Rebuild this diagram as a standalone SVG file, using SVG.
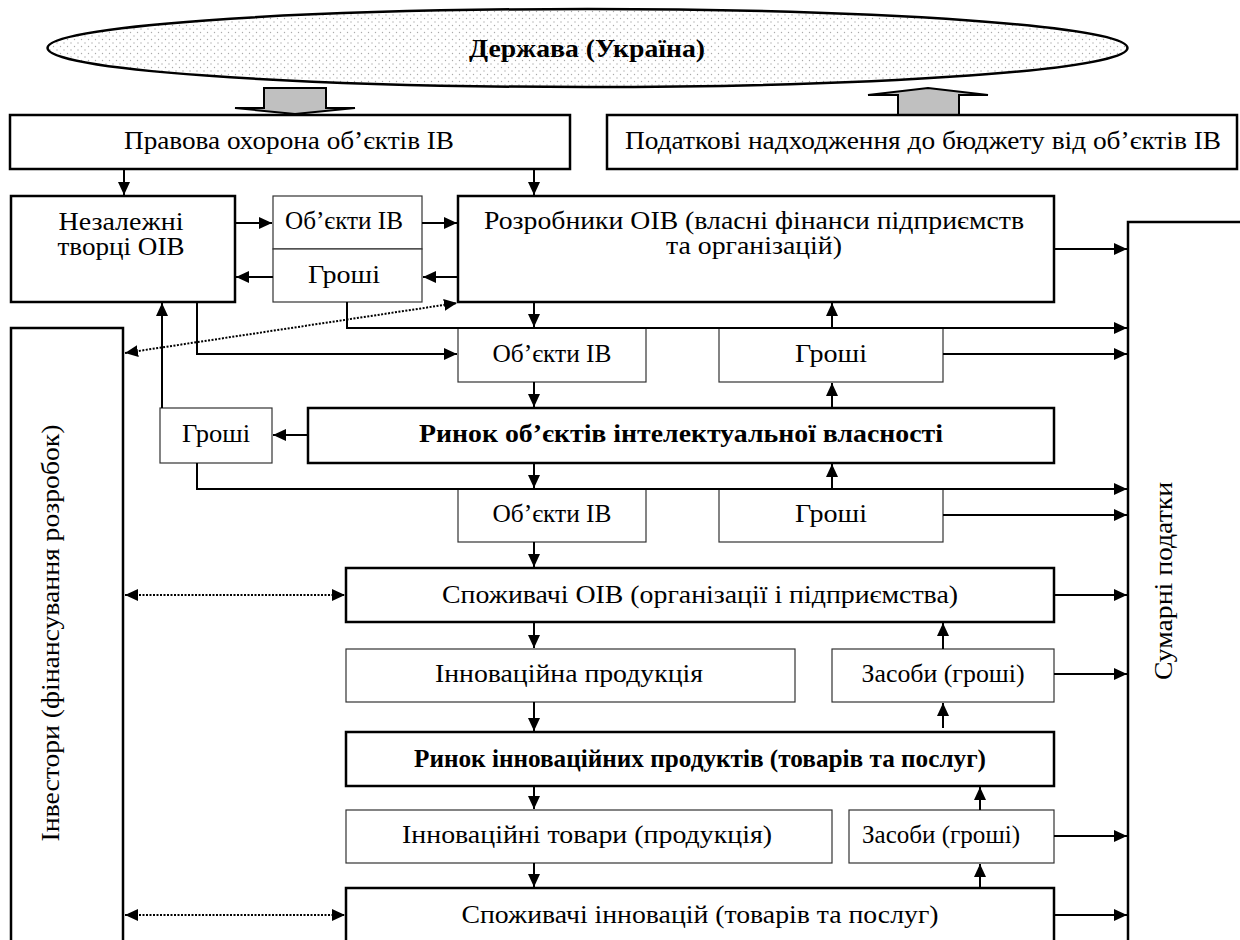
<svg xmlns="http://www.w3.org/2000/svg" width="1240" height="940" viewBox="0 0 1240 940">
<style>
text{font-family:"Times New Roman","Liberation Serif",Tinos,"Noto Serif",serif;font-size:25px;fill:#000;text-anchor:middle}
.b{font-weight:bold}
.thick{fill:#fff;stroke:#000;stroke-width:2.5}
.thin{fill:#fff;stroke:#333;stroke-width:1.2}
.c{fill:none;stroke:#000;stroke-width:2;marker-end:url(#ah)}
.d{fill:none;stroke:#000;stroke-width:2;stroke-dasharray:2 1.5;marker-end:url(#ah);marker-start:url(#ah)}
.big{fill:#c0c0c0;stroke:#000;stroke-width:2;stroke-linejoin:miter}
</style>
<defs>
<pattern id="dots" width="7" height="7" patternUnits="userSpaceOnUse">
<rect width="7" height="7" fill="#fff"/>
<circle cx="1" cy="1" r="0.7" fill="#aaa"/>
<circle cx="4.5" cy="4.5" r="0.7" fill="#aaa"/>
</pattern>
<marker id="ah" markerUnits="userSpaceOnUse" markerWidth="14" markerHeight="12" refX="13" refY="6" orient="auto-start-reverse">
<path d="M0,0 L13,6 L0,12 Z" fill="#000"/>
</marker>
</defs>
<rect width="1240" height="940" fill="#fff"/>
<g id="state">
<ellipse cx="587.5" cy="48" rx="540" ry="39" fill="url(#dots)" stroke="#000" stroke-width="2.5"/>
<text class="b" x="587" y="57" textLength="236" lengthAdjust="spacingAndGlyphs">Держава (Україна)</text>
</g>
<g id="bigarrows">
<path class="big" d="M264,88 H326 V108 H355 L295,114 L235,108 H264 Z"/>
<path class="big" d="M898,115 V95 H868 L928,88 L988,95 H959 V115 Z"/>
</g>

<g id="legal">
<rect class="thick" x="10" y="115" width="560" height="54"/>
<text x="289" y="149" textLength="330" lengthAdjust="spacingAndGlyphs">Правова охорона об’єктів ІВ</text>
</g>
<g id="tax">
<rect class="thick" x="607" y="115" width="630" height="54"/>
<text x="923" y="149" textLength="596" lengthAdjust="spacingAndGlyphs">Податкові надходження до бюджету від об’єктів ІВ</text>
</g>
<g id="independent">
<rect class="thick" x="11" y="196" width="224" height="106"/>
<text x="121" y="230" textLength="125" lengthAdjust="spacingAndGlyphs">Незалежні</text>
<text x="121" y="255" textLength="127" lengthAdjust="spacingAndGlyphs">творці ОІВ</text>
</g>
<g id="obj-top">
<rect class="thin" x="273" y="196" width="149" height="53"/>
<text x="344" y="229" textLength="118" lengthAdjust="spacingAndGlyphs">Об’єкти ІВ</text>
</g>
<g id="money-top">
<rect class="thin" x="273" y="249" width="149" height="53"/>
<text x="344" y="283" textLength="72" lengthAdjust="spacingAndGlyphs">Гроші</text>
</g>
<g id="developers">
<rect class="thick" x="458" y="196" width="596" height="106"/>
<text x="754" y="229" font-size="24" textLength="540" lengthAdjust="spacingAndGlyphs">Розробники ОІВ (власні фінанси підприємств</text>
<text x="754" y="254" font-size="24" textLength="176" lengthAdjust="spacingAndGlyphs">та організацій)</text>
</g>
<g id="taxes-total">
<rect class="thick" x="1128" y="222" width="120" height="730"/>
<text transform="translate(1172,581) rotate(-90)" textLength="198" lengthAdjust="spacingAndGlyphs">Сумарні податки</text>
</g>
<g id="investors">
<rect class="thick" x="11" y="328" width="112" height="630"/>
<text transform="translate(59,633) rotate(-90)" textLength="417" lengthAdjust="spacingAndGlyphs">Інвестори (фінансування розробок)</text>
</g>
<g id="obj-1">
<rect class="thin" x="458" y="328" width="188" height="54"/>
<text x="552" y="362" textLength="119" lengthAdjust="spacingAndGlyphs">Об’єкти ІВ</text>
</g>
<g id="money-1">
<rect class="thin" x="719" y="328" width="224" height="54"/>
<text x="831" y="362" textLength="72" lengthAdjust="spacingAndGlyphs">Гроші</text>
</g>
<g id="ip-market">
<rect class="thick" x="308" y="408" width="746" height="55"/>
<text class="b" x="681" y="442" textLength="524" lengthAdjust="spacingAndGlyphs">Ринок об’єктів інтелектуальної власності</text>
</g>
<g id="money-left">
<rect class="thin" x="160" y="408" width="112" height="55"/>
<text x="216" y="442" textLength="68" lengthAdjust="spacingAndGlyphs">Гроші</text>
</g>
<g id="obj-2">
<rect class="thin" x="458" y="489" width="188" height="53"/>
<text x="552" y="522" textLength="119" lengthAdjust="spacingAndGlyphs">Об’єкти ІВ</text>
</g>
<g id="money-2">
<rect class="thin" x="719" y="489" width="224" height="53"/>
<text x="831" y="522" textLength="72" lengthAdjust="spacingAndGlyphs">Гроші</text>
</g>
<g id="ip-consumers">
<rect class="thick" x="346" y="568" width="708" height="54"/>
<text x="700" y="603" textLength="516" lengthAdjust="spacingAndGlyphs">Споживачі ОІВ (організації і підприємства)</text>
</g>
<g id="innov-product">
<rect class="thin" x="346" y="649" width="449" height="53"/>
<text x="569" y="682" textLength="268" lengthAdjust="spacingAndGlyphs">Інноваційна продукція</text>
</g>
<g id="funds-1">
<rect class="thin" x="832" y="649" width="222" height="53"/>
<text x="943" y="682" textLength="163" lengthAdjust="spacingAndGlyphs">Засоби (гроші)</text>
</g>
<g id="innov-market">
<rect class="thick" x="346" y="732" width="708" height="54"/>
<text class="b" x="700" y="767" textLength="572" lengthAdjust="spacingAndGlyphs">Ринок інноваційних продуктів (товарів та послуг)</text>
</g>
<g id="innov-goods">
<rect class="thin" x="346" y="810" width="486" height="53"/>
<text x="587" y="843" textLength="370" lengthAdjust="spacingAndGlyphs">Інноваційні товари (продукція)</text>
</g>
<g id="funds-2">
<rect class="thin" x="849" y="810" width="205" height="53"/>
<text x="941" y="843" textLength="158" lengthAdjust="spacingAndGlyphs">Засоби (гроші)</text>
</g>
<g id="innov-consumers">
<rect class="thick" x="346" y="888" width="708" height="70"/>
<text x="700" y="923" textLength="477" lengthAdjust="spacingAndGlyphs">Споживачі інновацій (товарів та послуг)</text>
</g>
<g id="connectors">
<path class="c" d="M124,169 V195"/>
<path class="c" d="M534,169 V195"/>
<path class="c" d="M235,223 H272"/>
<path class="c" d="M422,223 H457"/>
<path class="c" d="M458,277 H423"/>
<path class="c" d="M273,277 H236"/>
<path class="c" d="M1054,249 H1127"/>
<path class="c" d="M347,302 V328 H1127"/>
<path class="c" d="M197,302 V354 H457"/>
<path class="d" d="M125,353 L457,303"/>
<path class="c" d="M534,302 V327"/>
<path class="c" d="M832,328 V303"/>
<path class="c" d="M943,354 H1127"/>
<path class="c" d="M534,382 V407"/>
<path class="c" d="M832,408 V383"/>
<path class="c" d="M308,435 H273"/>
<path class="c" d="M162,408 V303"/>
<path class="c" d="M197,463 V489 H1127"/>
<path class="c" d="M534,463 V488"/>
<path class="c" d="M832,489 V464"/>
<path class="c" d="M943,515 H1127"/>
<path class="c" d="M534,542 V567"/>
<path class="c" d="M1054,595 H1127"/>
<path class="d" d="M125,595 H345"/>
<path class="c" d="M943,649 V623"/>
<path class="c" d="M534,622 V648"/>
<path class="c" d="M1054,674 H1127"/>
<path class="c" d="M534,702 V731"/>
<path class="c" d="M943,728 V703"/>
<path class="c" d="M534,786 V809"/>
<path class="c" d="M980,810 V787"/>
<path class="c" d="M1054,836 H1127"/>
<path class="c" d="M534,863 V887"/>
<path class="c" d="M980,888 V864"/>
<path class="c" d="M1054,915 H1127"/>
<path class="d" d="M125,915 H345"/>
</g>
</svg>
